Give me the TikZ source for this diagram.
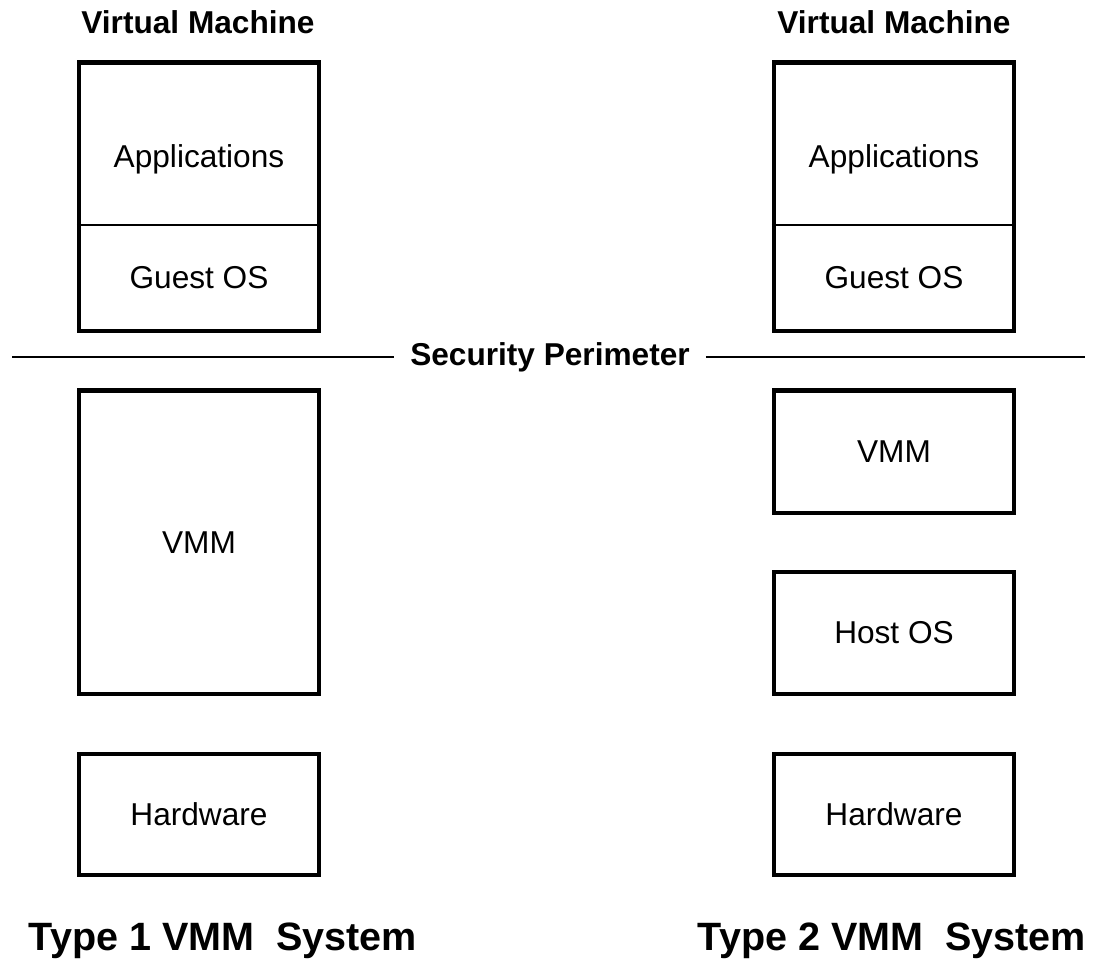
\documentclass[tikz,border=0pt]{standalone}
\usepackage{fontspec}
\setmainfont{Liberation Sans}
\usetikzlibrary{positioning}

\begin{document}
\begin{tikzpicture}[x=0.02cm,y=-0.02cm,
    box/.style={draw,line width=2.5pt,minimum width=4.8cm,inner sep=0pt},
    thinline/.style={line width=0.8pt},
    lbl/.style={font=\fontsize{18}{20}\selectfont},
    ttl/.style={font=\fontsize{18}{20}\selectfont\bfseries},
    sys/.style={font=\fontsize{22.5}{26}\selectfont\bfseries}]
    \useasboundingbox (0,0) rectangle (1100,964);

    % Type 1 side
    \node[ttl] (vmt1) at (198,22) {Virtual Machine};
    \node[box,minimum height=5.37cm] (vm1) at (199,196.75) {};
    \draw[line width=1.2pt] (vm1.west |- 0,225) -- (vm1.east |- 0,225);
    \node[lbl] (app1) at (199,159.5) {Applications};
    \node[lbl] (gos1) at (199,278) {Guest OS};
    \node[box,minimum height=6.07cm] (vmm1) at (199,542.25) {};
    \node[lbl] at (vmm1) {VMM};
    \node[box,minimum height=2.42cm] (hw1) at (199,814.5) {};
    \node[lbl] at (hw1) {Hardware};
    \node[sys] (sys1) at (223,941) {Type 1 VMM\ \ System};

    % Type 2 side
    \node[ttl] (vmt2) at (894,22) {Virtual Machine};
    \node[box,minimum height=5.37cm] (vm2) at (894,196.75) {};
    \draw[line width=1.2pt] (vm2.west |- 0,225) -- (vm2.east |- 0,225);
    \node[lbl] (app2) at (894,159.5) {Applications};
    \node[lbl] (gos2) at (894,278) {Guest OS};
    \node[box,minimum height=2.45cm] (vmm2) at (894,451.75) {};
    \node[lbl] at (vmm2) {VMM};
    \node[box,minimum height=2.43cm] (hos2) at (894,633) {};
    \node[lbl] at (hos2) {Host OS};
    \node[box,minimum height=2.42cm] (hw2) at (894,814.5) {};
    \node[lbl] at (hw2) {Hardware};
    \node[sys] (sys2) at (892,941) {Type 2 VMM\ \ System};

    % security perimeter
    \coordinate (secl) at (12,357);
    \coordinate (secr) at (1085,357);
    \node[ttl,inner sep=9pt] (sec) at (550,357) {Security Perimeter};
    \draw[thinline] (secl) -- (sec.west);
    \draw[thinline] (sec.east) -- (secr);
\end{tikzpicture}
\end{document}
